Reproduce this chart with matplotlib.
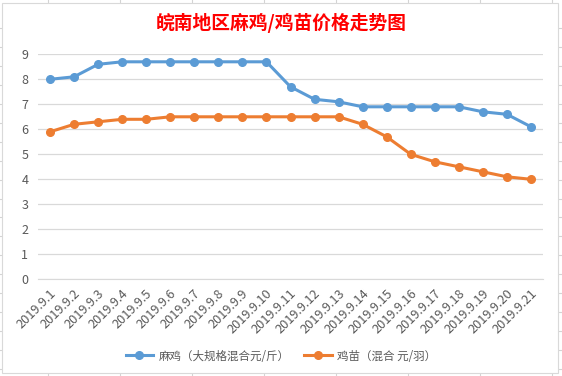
import matplotlib
matplotlib.use("Agg")
import matplotlib.pyplot as plt
from matplotlib.lines import Line2D
from matplotlib.patches import Rectangle
from matplotlib.transforms import ScaledTranslation

plt.rcParams['font.family'] = ['Noto Sans CJK SC', 'DejaVu Sans']

dates = ["2019.9.1", "2019.9.2", "2019.9.3", "2019.9.4", "2019.9.5", "2019.9.6",
         "2019.9.7", "2019.9.8", "2019.9.9", "2019.9.10", "2019.9.11", "2019.9.12",
         "2019.9.13", "2019.9.14", "2019.9.15", "2019.9.16", "2019.9.17", "2019.9.18",
         "2019.9.19", "2019.9.20", "2019.9.21"]
maji = [8.0, 8.1, 8.6, 8.7, 8.7, 8.7, 8.7, 8.7, 8.7, 8.7, 7.7, 7.2,
        7.1, 6.9, 6.9, 6.9, 6.9, 6.9, 6.7, 6.6, 6.1]
jimiao = [5.9, 6.2, 6.3, 6.4, 6.4, 6.5, 6.5, 6.5, 6.5, 6.5, 6.5, 6.5,
          6.5, 6.2, 5.7, 5.0, 4.7, 4.5, 4.3, 4.1, 4.0]
label_maji = "麻鸡（大规格混合元/斤）"
label_jimiao = "鸡苗（混合 元/羽）"
title = "皖南地区麻鸡/鸡苗价格走势图"

W, H = 562, 376
fig = plt.figure(figsize=(W / 100, H / 100), dpi=100)
fig.patch.set_facecolor("white")

def fx(px):
    return px / W

def fy(py):
    return 1 - py / H

# spreadsheet cells behind the chart
grid_c = "#d4d4d4"
for x in range(48, W, 72):
    fig.add_artist(Line2D([fx(x), fx(x)], [0, 1], color=grid_c, lw=0.8, zorder=-3))
y = 28.0
while y < H:
    fig.add_artist(Line2D([0, 1], [fy(y), fy(y)], color=grid_c, lw=0.8, zorder=-3))
    y += 18.95

# chart area
fig.add_artist(Rectangle((fx(2), fy(372.7)), fx(556), (370 - 0.3) / H,
                         transform=fig.transFigure, facecolor="white",
                         edgecolor="#d9d9d9", lw=0.8, zorder=-2))

ax = fig.add_axes([fx(38), fy(279.3), fx(505), 225 / H])
ax.set_facecolor("none")
x = range(len(dates))
ax.plot(x, maji, color="#5B9BD5", lw=2.2, marker="o", ms=5.5, label=label_maji)
ax.plot(x, jimiao, color="#ED7D31", lw=2.2, marker="o", ms=5.5, label=label_jimiao)

ax.set_xlim(-0.5, len(dates) - 0.5)
ax.set_ylim(0, 9)
ax.set_yticks(range(0, 10))
ax.grid(axis="y", color="#d9d9d9", lw=0.9)
ax.set_axisbelow(True)
for s in ["top", "right", "left"]:
    ax.spines[s].set_visible(False)
ax.spines["bottom"].set_color("#d9d9d9")
ax.tick_params(axis="y", length=0, pad=7, labelsize=9, labelcolor="#595959")
ax.tick_params(axis="x", length=0, pad=9, labelsize=9.2, labelcolor="#595959")
ax.set_xticks(list(x))
ax.set_xticklabels(dates, rotation=45, ha="right", va="center", rotation_mode="anchor")
off = ScaledTranslation(4 / 100, 0, fig.dpi_scale_trans)
for lab in ax.get_xticklabels():
    lab.set_transform(lab.get_transform() + off)

fig.text(0.5, fy(22.5), title, color="red", fontsize=13.5, fontweight="bold",
         ha="center", va="center")

fig.legend(loc="center", bbox_to_anchor=(0.5, fy(356)), ncol=2, frameon=False,
           fontsize=8.3, labelcolor="#595959", handlelength=2.4, columnspacing=1.2,
           handletextpad=0.5)

fig.savefig("out.png", dpi=100)
